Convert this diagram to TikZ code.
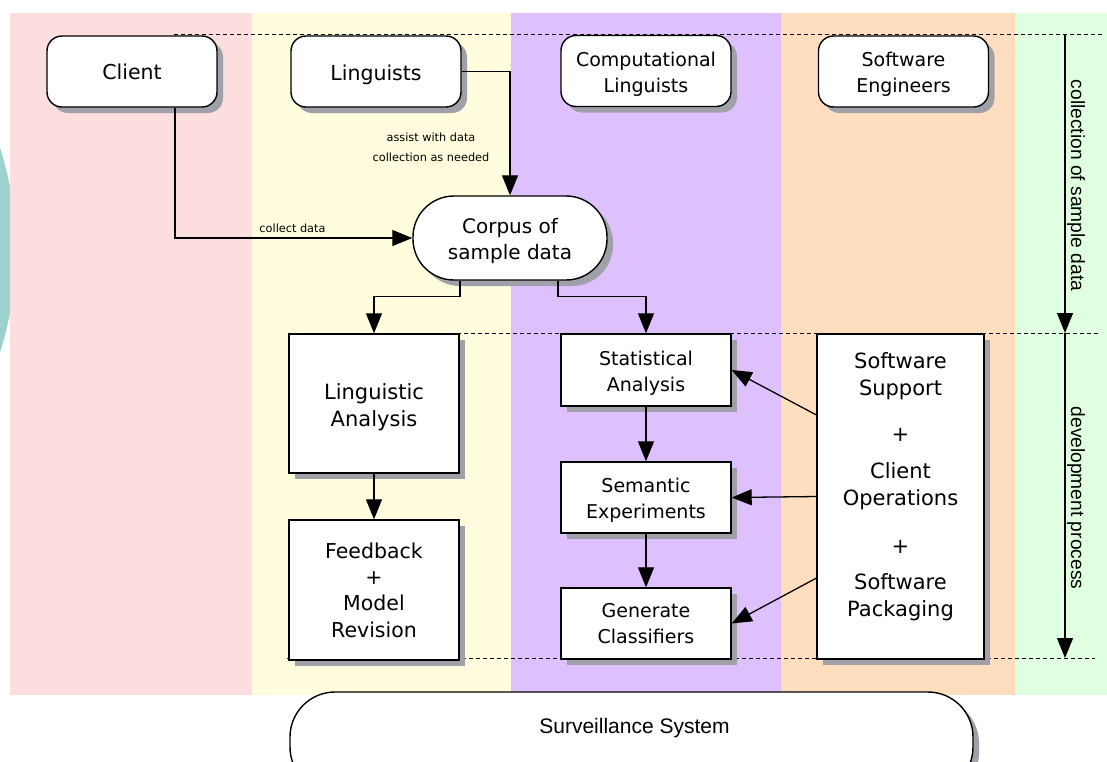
\documentclass[tikz,border=0pt]{standalone}
\usepackage{fontspec}
\setmainfont{DejaVu Sans}
\newfontfamily\arialfont{Liberation Sans}
\usetikzlibrary{arrows.meta,shadows,calc}
\definecolor{lanepink}{RGB}{253,222,222}
\definecolor{laneyellow}{RGB}{255,253,222}
\definecolor{lanepurple}{RGB}{222,192,255}
\definecolor{laneorange}{RGB}{255,222,192}
\definecolor{lanegreen}{RGB}{224,255,224}
\definecolor{tealblob}{RGB}{158,208,206}
\definecolor{shadowgray}{RGB}{160,160,168}
\newcommand\myfs[2]{\fontsize{#1}{#2}\selectfont}
\newcommand\dn{\rule{0pt}{1.08em}}
\tikzset{
  boxshadow/.style={drop shadow={shadow xshift=6pt,shadow yshift=-6pt,fill=shadowgray,opacity=1}},
  rbox/.style={draw,fill=white,line width=1.4pt,rounded corners=15pt,minimum width=170pt,minimum height=71pt,inner sep=0pt,align=center,boxshadow},
  sbox/.style={draw,fill=white,line width=1.4pt,minimum width=170pt,inner sep=0pt,align=center,boxshadow},
  conn/.style={line width=1.3pt},
  arr/.style={conn,-{Triangle[length=20pt,width=16pt]}},
  phaseline/.style={dashed,dash pattern=on 4pt off 3pt,line width=0.8pt},
  smalllab/.style={font=\myfs{11.3}{20},align=center,inner sep=0pt},
  sidelab/.style={font=\arialfont\myfs{19.2}{22},rotate=-90,inner sep=0pt}
}
\begin{document}
\begin{tikzpicture}[x=1pt,y=-1pt]
\useasboundingbox (0,0) rectangle (1107,761);
\clip (0,0) rectangle (1107,761);
% background blob and lanes
\fill[tealblob] (-316,250) circle (332);
\fill[lanepink] (10,13) rectangle (252,695);
\fill[laneyellow] (252,13) rectangle (511,695);
\fill[lanepurple] (511,13) rectangle (781,695);
\fill[laneorange] (781,13) rectangle (1015,695);
\fill[lanegreen] (1015,13) rectangle (1107,695);
% dashed phase lines
\coordinate (t1) at (1065,34);
\coordinate (t2) at (1065,333);
\coordinate (t3) at (1065,658);
\draw[phaseline] (174,34) -- (1103,34);
\draw[phaseline] (289,333) -- (1100,333);
\draw[phaseline] (287,658) -- (1095,658);
% nodes
\node[rbox,font=\myfs{20.5}{26}] (client) at (132,71.5) {Client};
\node[rbox,font=\myfs{20.5}{26}] (ling) at (376,71.5) {\dn Linguists};
\node[rbox,font=\myfs{19}{26}] (cl) at (646,71) {\dn Computational\\Linguists};
\node[rbox,font=\myfs{19}{26}] (se) at (903.5,71.5) {\dn Software\\Engineers};
\node[draw,fill=white,line width=1.4pt,rounded corners=41pt,minimum width=194pt,minimum height=84pt,inner sep=0pt,align=center,boxshadow,font=\myfs{20}{26}] (corpus) at (510,238) {\dn Corpus of\\sample data};
\node[sbox,minimum height=139pt,font=\myfs{21}{27}] (la) at (374,403.5) {\dn Linguistic\\Analysis};
\node[sbox,minimum height=140pt,font=\myfs{20.5}{26.3}] (fb) at (374,590) {Feedback\\+\\Model\\Revision};
\node[sbox,minimum height=72pt,font=\myfs{19}{26}] (sa) at (646,370) {\dn Statistical\\Analysis};
\node[sbox,minimum height=71pt,font=\myfs{19}{26}] (sem) at (646,497.5) {\dn Semantic\\Experiments};
\node[sbox,minimum height=71pt,font=\myfs{19}{26}] (gc) at (646,623.5) {Generate\\Classifiers};
\node[sbox,minimum width=167pt,minimum height=325pt] (ss) at (900.5,496.5) {};
\node[align=center,inner sep=0pt,font=\myfs{21}{27}] (sstext) at (900.5,487) {Software\\Support\\[19pt]+\\[10pt]Client\\Operations\\[21pt]+\\[9pt]Software\\Packaging};
\node[draw,fill=white,line width=1.4pt,rounded corners=45pt,minimum width=683pt,minimum height=100pt,inner sep=0pt,boxshadow] (surv) at (631.5,742) {};
\node[font=\arialfont\myfs{21}{24},inner sep=0pt] (survtext) at (634.5,728) {Surveillance System};
% connectors
\draw[arr] ([xshift=43pt]client.south) |- (corpus.west);
\node[smalllab,anchor=south] (lcollect) at (292.5,233) {collect data};
\draw[arr] (ling.east) -| (corpus.north);
\node[smalllab] (lassist) at (431,147) {assist with data\\collection as needed};
\draw[arr] ([xshift=-50pt]corpus.south) -- ++(0,16) -| (la.north);
\draw[arr] ([xshift=48pt]corpus.south) -- ++(0,16) -| (sa.north);
\draw[arr] (la.south) -- (fb.north);
\draw[arr] (sa.south) -- (sem.north);
\draw[arr] (sem.south) -- (gc.north);
\draw[arr] ($(ss.north west)!0.25!(ss.south west)$) -- (sa.east);
\draw[arr] (ss.west) -- (sem.east);
\draw[arr] ($(ss.north west)!0.75!(ss.south west)$) -- (gc.east);
% phase arrows
\draw[arr] (t1) -- (t2);
\draw[arr] (t2) -- (t3);
\node[sidelab] (lphase1) at (1076,185.5) {collection of sample data};
\node[sidelab] (lphase2) at (1076,498) {development process};
\end{tikzpicture}
\end{document}
